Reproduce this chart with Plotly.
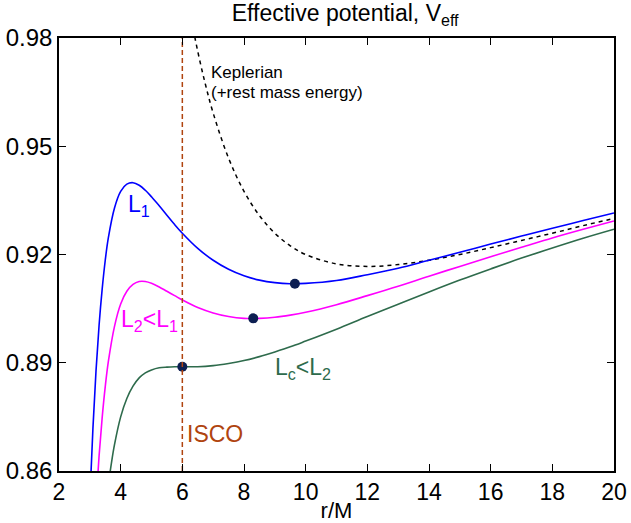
import plotly.graph_objects as go

# radius grid (r/M)
r_grid = [3.0, 3.1, 3.2, 3.3, 3.4, 3.5, 3.6, 3.8, 4.0, 4.2, 4.4, 4.6, 4.8, 5.0,
          5.25, 5.5, 5.75, 6.0, 6.5, 7.0, 7.5, 8.0, 8.5, 9.0, 9.5, 10.0, 11.0,
          12.0, 13.0, 14.0, 15.0, 16.0, 17.0, 18.0, 19.0, 20.0]

V_L1 = [0.8519, 0.8718, 0.8877, 0.9004, 0.9104, 0.9184, 0.9246, 0.9329, 0.9375,
        0.9395, 0.9399, 0.9392, 0.9378, 0.9360, 0.9335, 0.9309, 0.9283, 0.9259,
        0.9217, 0.9184, 0.9159, 0.9141, 0.9129, 0.9122, 0.9119, 0.9120, 0.9128,
        0.9144, 0.9162, 0.9184, 0.9206, 0.9229, 0.9251, 0.9273, 0.9294, 0.9315]

V_L2 = [0.8148, 0.8348, 0.8511, 0.8642, 0.8748, 0.8834, 0.8903, 0.9001, 0.9063,
        0.9098, 0.9117, 0.9125, 0.9125, 0.9120, 0.9110, 0.9098, 0.9086, 0.9074,
        0.9053, 0.9038, 0.9028, 0.9023, 0.9023, 0.9026, 0.9032, 0.9040, 0.9061,
        0.9086, 0.9112, 0.9140, 0.9167, 0.9194, 0.9220, 0.9246, 0.9270, 0.9293]

r_Lc = [3.4, 3.5, 3.6, 3.7, 3.8, 4.0, 4.2, 4.4, 4.6, 4.8, 5.0, 5.25, 5.5, 5.75,
        6.0, 6.5, 7.0, 7.5, 8.0, 8.5, 9.0, 9.5, 10.0, 11.0, 12.0, 13.0, 14.0,
        15.0, 16.0, 17.0, 18.0, 19.0, 20.0]
V_Lc = [0.8392, 0.8484, 0.8560, 0.8622, 0.8673, 0.8750, 0.8801, 0.8835, 0.8858,
        0.8872, 0.8880, 0.8886, 0.8888, 0.8889, 0.8889, 0.8889, 0.8892, 0.8898,
        0.8906, 0.8917, 0.8930, 0.8944, 0.8960, 0.8993, 0.9028, 0.9062, 0.9096,
        0.9129, 0.9160, 0.9190, 0.9218, 0.9245, 0.9270]

r_kep = [6.0, 6.25, 6.5, 6.75, 7.0, 7.5, 8.0, 8.5, 9.0, 9.5, 10.0, 11.0, 12.0,
         13.0, 14.0, 15.0, 16.0, 17.0, 18.0, 19.0, 20.0]
V_kep = [1.0, 0.9872, 0.9763, 0.9671, 0.9592, 0.9467, 0.9375, 0.9308, 0.9259,
         0.9224, 0.9200, 0.9174, 0.9167, 0.9172, 0.9184, 0.9200, 0.9219, 0.9239,
         0.9259, 0.9280, 0.9300]

# circular orbit points (minima / ISCO)
dot_r = [9.65, 8.30, 6.0]
dot_V = [0.9119, 0.9023, 0.8889]

isco_r = 6.0
y_range = [0.86, 0.98]
x_ticks = [2, 4, 6, 8, 10, 12, 14, 16, 18, 20]
y_ticks = [0.86, 0.89, 0.92, 0.95, 0.98]
y_ticklabels = ["0.86", "0.89", "0.92", "0.95", "0.98"]

BLUE = "#0000ff"
MAGENTA = "#ff00ff"
GREEN = "#2e6b4c"
ISCO_C = "#b0440f"
DOT_C = "#0d1f52"

fig = go.Figure()
fig.add_trace(go.Scatter(x=r_kep, y=V_kep, mode="lines", line=dict(color="black", width=1.5, dash="4px,4px"), line_shape="spline"))
fig.add_trace(go.Scatter(x=r_grid, y=V_L1, mode="lines", line=dict(color=BLUE, width=1.6), line_shape="spline"))
fig.add_trace(go.Scatter(x=r_grid, y=V_L2, mode="lines", line=dict(color=MAGENTA, width=1.6), line_shape="spline"))
fig.add_trace(go.Scatter(x=r_Lc, y=V_Lc, mode="lines", line=dict(color=GREEN, width=1.6), line_shape="spline"))
fig.add_trace(go.Scatter(x=dot_r, y=dot_V, mode="markers", marker=dict(color=DOT_C, size=10)))
fig.add_trace(go.Scatter(x=[isco_r, isco_r], y=y_range, mode="lines", line=dict(color=ISCO_C, width=1.5, dash="5px,3px")))

fnt = "Liberation Sans, Arial, sans-serif"
ann = [
    dict(x=4.18, y=0.9335, text="L<sub>1</sub>", color=BLUE, size=23),
    dict(x=3.93, y=0.9016, text="L<sub>2</sub>&lt;L<sub>1</sub>", color=MAGENTA, size=23),
    dict(x=8.95, y=0.8883, text="L<sub>c</sub>&lt;L<sub>2</sub>", color=GREEN, size=23),
    dict(x=6.08, y=0.8703, text="ISCO", color=ISCO_C, size=23),
    dict(x=6.87, y=0.9705, text="Keplerian", color="black", size=17),
    dict(x=6.87, y=0.9650, text="(+rest mass energy)", color="black", size=17),
]
for a in ann:
    fig.add_annotation(x=a["x"], y=a["y"], text=a["text"], showarrow=False,
                       xanchor="left", yanchor="middle",
                       font=dict(color=a["color"], size=a["size"], family=fnt))

axis_common = dict(showline=True, linecolor="black", linewidth=1.5, mirror="ticks",
                   ticks="inside", ticklen=7, tickcolor="black", tickwidth=1,
                   showgrid=False, zeroline=False, automargin=False)
fig.update_xaxes(range=[2, 20], tickvals=x_ticks,
                 tickfont=dict(size=23, color="black", family=fnt),
                 title=dict(text="r/M", font=dict(size=22, color="black", family=fnt), standoff=0),
                 **axis_common)
fig.update_yaxes(range=y_range, tickvals=y_ticks, ticktext=y_ticklabels,
                 tickfont=dict(size=24, color="black", family=fnt), **axis_common)

fig.update_layout(
    width=631, height=523,
    margin=dict(l=59, r=17, t=38, b=52),
    paper_bgcolor="white", plot_bgcolor="white",
    showlegend=False,
    title=dict(text="Effective potential, V<sub>eff</sub>", x=0.547, xanchor="center",
               y=0.99, yanchor="top", automargin=False,
               font=dict(size=23, color="black", family=fnt)),
)
fig.write_html("out.html", config={"displayModeBar": False},
               post_script="document.body.style.margin='0px';")
